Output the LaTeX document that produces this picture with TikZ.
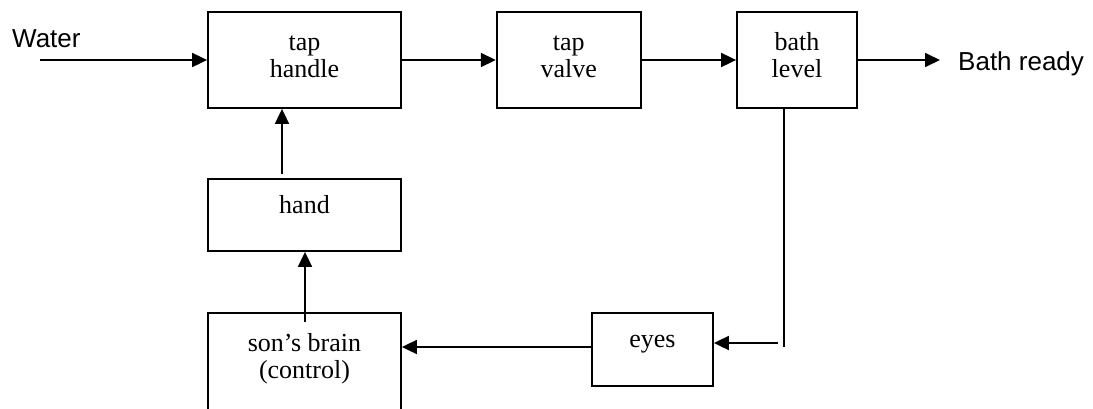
\documentclass[tikz,border=0pt]{standalone}
\usepackage{fontspec}
\setmainfont{Liberation Serif}
\newfontfamily\labelsans{Liberation Sans}
\usetikzlibrary{arrows.meta}
\begin{document}
\begin{tikzpicture}[x=1pt,y=-1pt,
  blockbox/.style={draw,line width=1.8pt,rectangle,inner sep=0pt},
  blocktext/.style={inner sep=0pt,anchor=base,font=\fontsize{26}{27}\selectfont},
  outtext/.style={inner sep=0pt,anchor=base west,font=\labelsans\fontsize{26}{30}\selectfont},
  flow/.style={line width=1.8pt,-{Triangle[length=15pt,width=14pt]}},
  wire/.style={line width=1.8pt}]
\useasboundingbox (0,0) rectangle (1093,408);
\clip (0,0) rectangle (1093,408);

% blocks
\node[blockbox,minimum width=193pt,minimum height=96pt] (handle) at (304.5,60) {};
\node[blockbox,minimum width=144pt,minimum height=96pt] (valve) at (568.7,60) {};
\node[blockbox,minimum width=120pt,minimum height=96pt] (level) at (797,60) {};
\node[blockbox,minimum width=193pt,minimum height=72pt] (hand) at (304.5,215) {};
\node[blockbox,minimum width=121pt,minimum height=73pt] (eyes) at (652.5,349.5) {};
\node[blockbox,minimum width=193pt,minimum height=100pt] (brain) at (304.5,363) {};

% block captions (anchored on the baseline of the last line)
\node[blocktext] (handletxt) at (304.5,77) {\begin{tabular}[b]{@{}c@{}}tap\\handle\end{tabular}};
\node[blocktext] (valvetxt) at (568.7,77) {\begin{tabular}[b]{@{}c@{}}tap\\valve\end{tabular}};
\node[blocktext] (leveltxt) at (797,77) {\begin{tabular}[b]{@{}c@{}}bath\\level\end{tabular}};
\node[blocktext] (handtxt) at (304.5,213) {hand};
\node[blocktext] (eyestxt) at (652.5,347) {eyes};
\node[blocktext] (braintxt) at (304.5,378) {\begin{tabular}[b]{@{}c@{}}son’s brain\\(control)\end{tabular}};

% input and output
\node[outtext] (water) at (12,47) {Water};
\node[outtext] (ready) at (958,70.5) {Bath ready};
\coordinate (win) at (40,60);
\coordinate (bout) at (940,60);

% forward path
\draw[flow] (win) -- (win -| handle.west);
\draw[flow] (handle.east) -- (valve.west);
\draw[flow] (valve.east) -- (level.west);
\draw[flow] (level.east) -- (bout);

% feedback path
\coordinate (fb) at (784,347);
\coordinate (fbin) at (778,343);
\coordinate (eout) at (592,347);
\coordinate (hup) at (282,174);
\draw[wire] (fb |- level.south) -- (fb);
\draw[flow] (fbin) -- (fbin -| eyes.east);
\draw[flow] (eout -| eyes.west) -- (eout -| brain.east);
\draw[flow] ([xshift=0.5pt,yshift=-10pt]brain.north) -- ([xshift=0.5pt]hand.south);
\draw[flow] (hup) -- (hup |- handle.south);
\end{tikzpicture}
\end{document}
